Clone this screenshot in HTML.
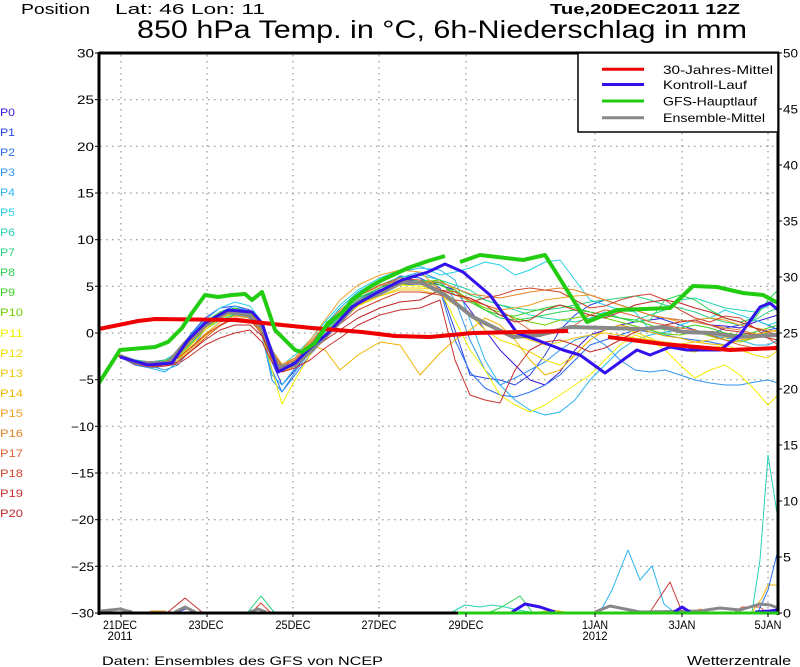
<!DOCTYPE html>
<html>
<head>
<meta charset="utf-8">
<style>
html,body{margin:0;padding:0;background:#fff;}
svg{display:block;}
text{font-family:"Liberation Sans",Arial,sans-serif;}
</style>
</head>
<body>
<svg width="800" height="667" viewBox="0 0 800 667" xmlns="http://www.w3.org/2000/svg">
<rect x="0" y="0" width="800" height="667" fill="#fff"/>

<!-- Header -->
<text x="21" y="14" font-size="15" textLength="69" lengthAdjust="spacingAndGlyphs">Position</text>
<text x="115" y="14" font-size="15" textLength="150" lengthAdjust="spacingAndGlyphs">Lat: 46 Lon: 11</text>
<text x="550" y="14" font-size="15" font-weight="bold" textLength="190" lengthAdjust="spacingAndGlyphs">Tue,20DEC2011 12Z</text>
<text x="137" y="38" font-size="25" textLength="610" lengthAdjust="spacingAndGlyphs">850 hPa Temp. in °C, 6h-Niederschlag in mm</text>

<!-- Grid -->
<g stroke="#808080" stroke-width="1" stroke-dasharray="1.5 4.5" fill="none">
<line x1="100" y1="99.7" x2="777" y2="99.7"/>
<line x1="100" y1="146.3" x2="777" y2="146.3"/>
<line x1="100" y1="193" x2="777" y2="193"/>
<line x1="100" y1="239.7" x2="777" y2="239.7"/>
<line x1="100" y1="286.3" x2="777" y2="286.3"/>
<line x1="100" y1="333" x2="777" y2="333"/>
<line x1="100" y1="379.7" x2="777" y2="379.7"/>
<line x1="100" y1="426.3" x2="777" y2="426.3"/>
<line x1="100" y1="473" x2="777" y2="473"/>
<line x1="100" y1="519.7" x2="777" y2="519.7"/>
<line x1="100" y1="566.3" x2="777" y2="566.3"/>
<line x1="121" y1="55" x2="121" y2="612"/>
<line x1="207" y1="55" x2="207" y2="612"/>
<line x1="293" y1="55" x2="293" y2="612"/>
<line x1="379" y1="55" x2="379" y2="612"/>
<line x1="466" y1="55" x2="466" y2="612"/>
<line x1="595" y1="55" x2="595" y2="612"/>
<line x1="682" y1="55" x2="682" y2="612"/>
<line x1="768" y1="55" x2="768" y2="612"/>
</g>

<!-- Ensemble members -->
<g fill="none" stroke-width="1" stroke-linejoin="round">
<polyline stroke="#3c14dc" points="118,355 135,363 150,366 165,364 178,356 190,338 205,322 220,312 235,308 250,312 262,330 272,360 282,372 295,366 310,350 325,334 340,318 358,300 380,290 400,280 420,280 440,285 455,290 470,310 485,330 500,350 515,365 530,380 545,385 560,372 575,350 590,335 605,330 620,325 635,322 650,320 665,318 680,320 695,322 710,325 725,326 740,328 755,322 768,318 778,315"/>
<polyline stroke="#2846e6" points="118,354 135,360 150,362 165,360 178,352 190,335 205,318 220,308 235,306 250,310 262,325 272,362 282,385 295,370 310,350 325,330 340,315 358,300 380,288 400,276 420,278 440,288 455,330 470,375 485,378 500,380 515,385 530,375 545,355 560,330 575,315 590,305 605,300 620,305 635,310 650,315 665,320 680,325 695,330 710,335 725,328 740,325 755,320 768,325 778,330"/>
<polyline stroke="#2a6ef0" points="118,356 135,365 150,368 165,366 178,360 190,345 205,328 220,316 235,312 250,316 262,330 272,370 282,392 295,375 310,355 325,338 340,322 358,305 380,295 400,285 420,284 440,290 455,340 470,372 485,388 500,395 515,397 530,392 545,385 560,375 575,360 590,345 605,340 620,335 635,330 650,332 665,335 680,338 695,340 710,342 725,345 740,338 755,335 768,330 778,328"/>
<polyline stroke="#3296f0" points="118,355 135,362 150,366 165,370 178,365 190,350 205,330 220,318 235,313 250,318 262,335 272,380 282,392 295,372 310,352 325,330 340,312 358,298 380,288 400,278 420,272 440,280 455,300 470,340 485,370 500,385 515,378 530,370 545,362 560,350 575,340 590,335 605,345 620,360 635,370 650,372 665,370 680,375 695,380 710,383 725,385 740,385 755,382 768,380 778,383"/>
<polyline stroke="#28b4f0" points="118,354 135,362 150,368 165,372 178,362 190,345 205,325 220,312 235,306 250,312 262,332 272,375 282,385 295,368 310,345 325,325 340,308 358,292 380,280 400,272 420,268 440,270 455,280 470,320 485,360 500,385 515,400 530,410 545,415 560,412 575,400 590,380 605,365 620,350 635,340 650,335 665,332 680,330 695,332 710,335 725,338 740,340 755,345 768,345 778,340"/>
<polyline stroke="#28d2e6" points="118,356 135,364 150,366 165,360 178,352 190,336 205,320 220,308 235,302 250,306 262,322 272,350 282,365 295,355 310,340 325,322 340,305 358,290 380,278 400,270 420,266 440,275 455,272 470,268 485,262 500,265 515,275 530,270 545,262 560,260 575,280 590,300 605,305 620,310 635,312 650,330 665,335 680,325 695,320 710,318 725,310 740,315 755,320 768,325 778,322"/>
<polyline stroke="#28d2b4" points="118,355 135,361 150,363 165,362 178,356 190,340 205,324 220,314 235,310 250,314 262,330 272,358 282,372 295,360 310,345 325,328 340,312 358,296 380,285 400,277 420,275 440,280 455,285 470,290 485,300 500,305 515,310 530,315 545,318 560,320 575,322 590,318 605,312 620,318 635,320 650,315 665,310 680,300 695,298 710,303 725,308 740,310 755,312 768,306 778,300"/>
<polyline stroke="#28d282" points="118,354 135,360 150,362 165,360 178,355 190,342 205,328 220,318 235,314 250,318 262,334 272,360 282,370 295,362 310,348 325,332 340,316 358,300 380,290 400,282 420,280 440,282 455,288 470,295 485,300 500,305 515,308 530,310 545,310 560,308 575,305 590,302 605,300 620,298 635,296 650,300 665,305 680,308 695,312 710,318 725,322 740,325 755,320 768,312 778,308"/>
<polyline stroke="#28d250" points="118,355 135,362 150,364 165,363 178,358 190,344 205,330 220,320 235,315 250,318 262,332 272,358 282,368 295,362 310,350 325,335 340,320 358,302 380,292 400,284 420,282 440,283 455,295 470,300 485,310 500,318 515,320 530,318 545,315 560,312 575,310 590,312 605,315 620,318 635,322 650,320 665,300 680,295 695,300 710,310 725,318 740,322 755,318 768,300 778,290"/>
<polyline stroke="#3cd228" points="118,356 135,363 150,365 165,362 178,354 190,338 205,322 220,312 235,308 250,313 262,328 272,354 282,366 295,360 310,346 325,330 340,314 358,298 380,288 400,281 420,283 440,285 455,292 470,302 485,310 500,315 515,316 530,312 545,308 560,305 575,308 590,312 605,315 620,318 635,320 650,325 665,330 680,328 695,325 710,328 725,333 740,335 755,332 768,328 778,325"/>
<polyline stroke="#6ed200" points="118,355 135,361 150,363 165,361 178,356 190,342 205,326 220,316 235,312 250,315 262,330 272,356 282,370 295,364 310,350 325,334 340,318 358,302 380,292 400,285 420,282 440,280 455,290 470,300 485,308 500,312 515,318 530,322 545,325 560,320 575,318 590,315 605,318 620,322 635,326 650,330 665,334 680,335 695,332 710,336 725,340 740,342 755,338 768,332 778,330"/>
<polyline stroke="#f0f000" points="118,354 135,362 150,364 165,362 178,358 190,346 205,330 220,318 235,312 250,316 262,334 272,370 282,404 295,380 310,355 325,336 340,320 358,305 380,294 400,285 420,286 440,290 455,320 470,350 485,370 500,395 515,405 530,412 545,405 560,395 575,385 590,375 605,360 620,345 635,335 650,340 665,350 680,365 695,378 710,370 725,365 740,375 755,390 768,405 778,395"/>
<polyline stroke="#f0dc00" points="118,355 135,362 150,365 165,364 178,360 190,346 205,330 220,318 235,313 250,317 262,330 272,356 282,370 295,364 310,350 325,336 340,322 358,306 380,296 400,288 420,288 440,290 455,300 470,315 485,330 500,340 515,345 530,352 545,360 560,365 575,355 590,340 605,330 620,328 635,332 650,338 665,345 680,350 695,352 710,348 725,345 740,350 755,355 768,358 778,350"/>
<polyline stroke="#f0c814" points="118,356 135,364 150,366 165,364 178,360 190,348 205,334 220,322 235,316 250,318 262,330 272,354 282,366 295,360 310,348 325,334 340,320 358,305 380,296 400,290 420,290 440,295 455,305 470,315 485,325 500,330 515,335 530,340 545,345 560,342 575,338 590,335 605,333 620,335 635,338 650,340 665,342 680,344 695,342 710,340 725,338 740,336 755,334 768,332 778,330"/>
<polyline stroke="#f0b400" points="118,355 135,363 150,366 165,366 178,362 190,350 205,336 220,325 235,318 250,320 262,332 272,360 282,372 295,366 310,345 325,350 340,370 358,355 380,342 400,345 420,375 440,353 455,340 470,330 485,318 500,325 515,340 530,360 545,375 560,370 575,355 590,340 605,330 620,325 635,328 650,332 665,336 680,338 695,342 710,344 725,345 740,340 755,338 768,336 778,336"/>
<polyline stroke="#f0a028" points="118,356 135,364 150,367 165,366 178,362 190,350 205,335 220,322 235,316 250,318 262,328 272,350 282,364 295,358 310,340 325,320 340,300 358,285 380,275 400,270 420,272 440,290 455,295 470,300 485,305 500,310 515,308 530,305 545,300 560,298 575,296 590,295 605,300 620,305 635,310 650,315 665,318 680,322 695,320 710,318 725,320 740,325 755,328 768,330 778,332"/>
<polyline stroke="#e68228" points="118,355 135,362 150,364 165,362 178,356 190,342 205,328 220,316 235,310 250,312 262,326 272,352 282,366 295,358 310,342 325,326 340,310 358,296 380,286 400,280 420,282 440,282 455,288 470,294 485,296 500,298 515,295 530,292 545,290 560,288 575,290 590,295 605,300 620,305 635,310 650,315 665,318 680,320 695,322 710,325 725,328 740,330 755,334 768,338 778,340"/>
<polyline stroke="#dc6432" points="118,356 135,364 150,367 165,366 178,362 190,352 205,338 220,326 235,318 250,320 262,330 272,352 282,366 295,360 310,344 325,328 340,312 358,296 380,285 400,278 420,280 440,290 455,292 470,300 485,305 500,310 515,320 530,330 545,335 560,332 575,325 590,315 605,310 620,312 635,316 650,322 665,325 680,328 695,330 710,335 725,340 740,345 755,348 768,350 778,345"/>
<polyline stroke="#d24632" points="118,355 135,362 150,364 165,362 178,358 190,348 205,335 220,325 235,318 250,320 262,334 272,356 282,368 295,362 310,350 325,338 340,324 358,310 380,300 400,292 420,292 440,295 455,300 470,302 485,298 500,295 515,290 530,288 545,290 560,292 575,300 590,308 605,306 620,300 635,296 650,294 665,300 680,310 695,318 710,322 725,316 740,318 755,328 768,338 778,345"/>
<polyline stroke="#c83232" points="118,356 135,364 150,366 165,366 178,364 190,356 205,345 220,338 235,333 250,330 262,342 272,362 282,372 295,368 310,360 325,348 340,338 358,325 380,315 400,310 420,308 440,300 455,360 470,395 485,400 500,403 515,370 530,350 545,342 560,340 575,345 590,352 605,348 620,340 635,332 650,328 665,325 680,322 695,320 710,325 725,330 740,332 755,335 768,338 778,340"/>
<polyline stroke="#be2828" points="118,355 135,363 150,366 165,366 178,362 190,352 205,340 220,330 235,325 250,325 262,336 272,358 282,370 295,364 310,352 325,340 340,330 358,318 380,308 400,302 420,300 440,290 455,295 470,298 485,305 500,315 515,322 530,320 545,310 560,305 575,310 590,315 605,318 620,312 635,305 650,302 665,300 680,303 695,308 710,312 725,318 740,322 755,328 768,332 778,336"/>
</g>

<!-- Precipitation members -->
<g fill="none" stroke-width="1" stroke-linejoin="round">
<polyline stroke="#f0a028" points="150,611 166,611"/>
<polyline stroke="#c83232" points="168,612 185,598 202,612"/>
<polyline stroke="#2846e6" points="178,612 188,608 196,612"/>
<polyline stroke="#28d282" points="248,612 261,596 274,612"/>
<polyline stroke="#d24632" points="252,612 261,603 270,612"/>
<polyline stroke="#28d2b4" points="452,612 465,605 480,607 492,605 505,607 518,610 530,612"/>
<polyline stroke="#28d250" points="490,612 500,608 520,596 532,612"/>
<polyline stroke="#f0b400" points="540,612 552,610 565,612"/>
<polyline stroke="#28b4f0" points="600,612 612,590 628,550 640,580 652,566 664,604 674,612"/>
<polyline stroke="#c83232" points="650,612 670,582 682,612"/>
<polyline stroke="#f0a028" points="692,612 700,609 708,612"/>
<polyline stroke="#d24632" points="735,612 742,607 760,607 766,612"/>
<polyline stroke="#28d2b4" points="752,612 760,560 768,455 778,520"/>
<polyline stroke="#f0b400" points="752,612 762,598 768,585 778,585"/>
<polyline stroke="#2a6ef0" points="758,612 768,590 778,550"/>
</g>

<!-- Precipitation thick -->
<polyline fill="none" stroke="#888" stroke-width="3" stroke-linejoin="round" points="101,611 120,609 132,612"/>
<polyline fill="none" stroke="#888" stroke-width="3" stroke-linejoin="round" points="175,612 185,607 195,612"/>
<polyline fill="none" stroke="#888" stroke-width="3" stroke-linejoin="round" points="250,612 258,609 266,612"/>
<polyline fill="none" stroke="#888" stroke-width="3" stroke-linejoin="round" points="595,612 610,606 625,609 640,612 700,611 720,608 740,610 760,604 770,605 778,608"/>
<polyline fill="none" stroke="#3311ee" stroke-width="3" stroke-linejoin="round" points="512,612 525,604 540,607 555,612"/>
<polyline fill="none" stroke="#3311ee" stroke-width="3" stroke-linejoin="round" points="674,612 682,607 690,612"/>
<polyline fill="none" stroke="#3311ee" stroke-width="3" stroke-linejoin="round" points="755,612 770,611 778,610"/>

<!-- Ensemble mean (gray) -->
<polyline fill="none" stroke="#888888" stroke-width="4" stroke-linejoin="round" points="120,356 138,363 168,363 185,343 205,325 228,312 248,315 262,328 278,367 295,365 312,350 335,327 358,302 382,292 402,282 422,283 430,287 445,295 473,317 513,337 540,335 570,327 607,328 643,329 663,327 683,332 713,333 737,337 777,335"/>

<!-- Control run (blue) -->
<polyline fill="none" stroke="#3311ee" stroke-width="3" stroke-linejoin="round" points="120,357 148,365 172,363 188,340 205,323 228,310 252,312 262,323 278,372 295,363 308,350 328,333 352,307 378,292 402,280 428,272 445,264 463,272 490,295 517,333 537,340 563,350 580,355 605,373 627,357 637,350 650,355 670,347 687,350 720,350 740,335 760,307 770,303 778,310"/>

<!-- 30-year mean (red) -->
<polyline fill="none" stroke="#ee0000" stroke-width="4" stroke-linejoin="round" points="99,329 138,321 155,319 235,320 282,325 312,328 362,332 395,336 430,337 473,333 568,331"/>
<polyline fill="none" stroke="#ee0000" stroke-width="4" stroke-linejoin="round" points="608,337 663,344 730,350 777,348"/>

<!-- GFS main run (green) -->
<polyline fill="none" stroke="#22cc11" stroke-width="4" stroke-linejoin="round" points="99,383 120,350 155,347 168,342 182,328 192,313 205,295 218,297 232,295 245,294 252,300 262,292 275,330 295,350 302,352 315,343 328,323 342,313 352,300 368,288 382,280 408,268 428,261 445,256"/>
<polyline fill="none" stroke="#22cc11" stroke-width="4" stroke-linejoin="round" points="460,262 480,255 523,260 545,255 587,322 617,310 670,308 693,286 717,287 743,293 763,295 778,303"/>

<!-- Frame -->
<line x1="99" y1="53" x2="779" y2="53" stroke="#000" stroke-width="3"/>
<line x1="99" y1="52" x2="99" y2="615" stroke="#000" stroke-width="3"/>
<line x1="778" y1="52" x2="778" y2="615" stroke="#000" stroke-width="3"/>
<line x1="98" y1="613" x2="458" y2="613" stroke="#000" stroke-width="3"/>
<line x1="458" y1="613" x2="779" y2="613" stroke="#22cc11" stroke-width="3"/>

<!-- Legend -->
<rect x="578" y="53" width="200" height="79" fill="#fff" stroke="#000" stroke-width="1.5"/>
<line x1="602" y1="69.3" x2="644" y2="69.3" stroke="#ee0000" stroke-width="3"/>
<line x1="602" y1="84.5" x2="644" y2="84.5" stroke="#3311ee" stroke-width="3"/>
<line x1="602" y1="101" x2="644" y2="101" stroke="#22cc11" stroke-width="3"/>
<line x1="602" y1="117.7" x2="644" y2="117.7" stroke="#888888" stroke-width="3"/>
<g font-size="12" fill="#000">
<text x="663" y="73.8" textLength="110" lengthAdjust="spacingAndGlyphs">30-Jahres-Mittel</text>
<text x="663" y="89" textLength="84" lengthAdjust="spacingAndGlyphs">Kontroll-Lauf</text>
<text x="663" y="105.5" textLength="94" lengthAdjust="spacingAndGlyphs">GFS-Hauptlauf</text>
<text x="663" y="122.2" textLength="102" lengthAdjust="spacingAndGlyphs">Ensemble-Mittel</text>
</g>

<!-- Left ticks & labels -->
<g stroke="#000" stroke-width="1">
<line x1="95" y1="53" x2="99" y2="53"/><line x1="95" y1="99.7" x2="99" y2="99.7"/><line x1="95" y1="146.3" x2="99" y2="146.3"/><line x1="95" y1="193" x2="99" y2="193"/><line x1="95" y1="239.7" x2="99" y2="239.7"/><line x1="95" y1="286.3" x2="99" y2="286.3"/><line x1="95" y1="333" x2="99" y2="333"/><line x1="95" y1="379.7" x2="99" y2="379.7"/><line x1="95" y1="426.3" x2="99" y2="426.3"/><line x1="95" y1="473" x2="99" y2="473"/><line x1="95" y1="519.7" x2="99" y2="519.7"/><line x1="95" y1="566.3" x2="99" y2="566.3"/><line x1="95" y1="613" x2="99" y2="613"/>
<line x1="778" y1="53" x2="782" y2="53"/><line x1="778" y1="109" x2="782" y2="109"/><line x1="778" y1="165" x2="782" y2="165"/><line x1="778" y1="221" x2="782" y2="221"/><line x1="778" y1="277" x2="782" y2="277"/><line x1="778" y1="333" x2="782" y2="333"/><line x1="778" y1="389" x2="782" y2="389"/><line x1="778" y1="445" x2="782" y2="445"/><line x1="778" y1="501" x2="782" y2="501"/><line x1="778" y1="557" x2="782" y2="557"/><line x1="778" y1="613" x2="782" y2="613"/>
<line x1="121" y1="613" x2="121" y2="617"/><line x1="207" y1="613" x2="207" y2="617"/><line x1="293" y1="613" x2="293" y2="617"/><line x1="379" y1="613" x2="379" y2="617"/><line x1="466" y1="613" x2="466" y2="617"/><line x1="595" y1="613" x2="595" y2="617"/><line x1="682" y1="613" x2="682" y2="617"/><line x1="768" y1="613" x2="768" y2="617"/>
</g>
<g font-size="12" fill="#000" text-anchor="end">
<text x="94" y="57.5" textLength="17" lengthAdjust="spacingAndGlyphs">30</text>
<text x="94" y="104.2" textLength="17" lengthAdjust="spacingAndGlyphs">25</text>
<text x="94" y="150.8" textLength="17" lengthAdjust="spacingAndGlyphs">20</text>
<text x="94" y="197.5" textLength="17" lengthAdjust="spacingAndGlyphs">15</text>
<text x="94" y="244.2" textLength="17" lengthAdjust="spacingAndGlyphs">10</text>
<text x="94" y="290.8" textLength="8" lengthAdjust="spacingAndGlyphs">5</text>
<text x="94" y="337.5" textLength="8" lengthAdjust="spacingAndGlyphs">0</text>
<text x="94" y="384.2" textLength="15" lengthAdjust="spacingAndGlyphs">−5</text>
<text x="94" y="430.8" textLength="23" lengthAdjust="spacingAndGlyphs">−10</text>
<text x="94" y="477.5" textLength="23" lengthAdjust="spacingAndGlyphs">−15</text>
<text x="94" y="524.2" textLength="23" lengthAdjust="spacingAndGlyphs">−20</text>
<text x="94" y="570.8" textLength="23" lengthAdjust="spacingAndGlyphs">−25</text>
<text x="94" y="617.5" textLength="23" lengthAdjust="spacingAndGlyphs">−30</text>
</g>
<g font-size="12" fill="#000">
<text x="783" y="57.5" textLength="15" lengthAdjust="spacingAndGlyphs">50</text>
<text x="783" y="113.5" textLength="15" lengthAdjust="spacingAndGlyphs">45</text>
<text x="783" y="169.5" textLength="15" lengthAdjust="spacingAndGlyphs">40</text>
<text x="783" y="225.5" textLength="15" lengthAdjust="spacingAndGlyphs">35</text>
<text x="783" y="281.5" textLength="15" lengthAdjust="spacingAndGlyphs">30</text>
<text x="783" y="337.5" textLength="15" lengthAdjust="spacingAndGlyphs">25</text>
<text x="783" y="393.5" textLength="15" lengthAdjust="spacingAndGlyphs">20</text>
<text x="783" y="449.5" textLength="15" lengthAdjust="spacingAndGlyphs">15</text>
<text x="783" y="505.5" textLength="15" lengthAdjust="spacingAndGlyphs">10</text>
<text x="783" y="561.5" textLength="8" lengthAdjust="spacingAndGlyphs">5</text>
<text x="783" y="617.5" textLength="8" lengthAdjust="spacingAndGlyphs">0</text>
</g>

<!-- Date labels -->
<g font-size="12" fill="#000" text-anchor="middle">
<text x="120" y="629" textLength="34" lengthAdjust="spacingAndGlyphs">21DEC</text>
<text x="120" y="640" textLength="25" lengthAdjust="spacingAndGlyphs">2011</text>
<text x="206" y="629" textLength="35" lengthAdjust="spacingAndGlyphs">23DEC</text>
<text x="293" y="629" textLength="35" lengthAdjust="spacingAndGlyphs">25DEC</text>
<text x="379" y="629" textLength="35" lengthAdjust="spacingAndGlyphs">27DEC</text>
<text x="466" y="629" textLength="35" lengthAdjust="spacingAndGlyphs">29DEC</text>
<text x="595" y="629" textLength="26" lengthAdjust="spacingAndGlyphs">1JAN</text>
<text x="595" y="640" textLength="25" lengthAdjust="spacingAndGlyphs">2012</text>
<text x="682" y="629" textLength="27" lengthAdjust="spacingAndGlyphs">3JAN</text>
<text x="768" y="629" textLength="27" lengthAdjust="spacingAndGlyphs">5JAN</text>
</g>

<!-- Footer -->
<text x="102" y="665" font-size="12" fill="#000" textLength="281" lengthAdjust="spacingAndGlyphs">Daten: Ensembles des GFS von NCEP</text>
<text x="687" y="665" font-size="13" fill="#000" textLength="104" lengthAdjust="spacingAndGlyphs">Wetterzentrale</text>

<!-- Member labels -->
<g font-size="11">
<text x="0" y="116" fill="#3c14dc" textLength="15" lengthAdjust="spacingAndGlyphs">P0</text>
<text x="0" y="136" fill="#2846e6" textLength="15" lengthAdjust="spacingAndGlyphs">P1</text>
<text x="0" y="156" fill="#2a6ef0" textLength="15" lengthAdjust="spacingAndGlyphs">P2</text>
<text x="0" y="176" fill="#3296f0" textLength="15" lengthAdjust="spacingAndGlyphs">P3</text>
<text x="0" y="196" fill="#28b4f0" textLength="15" lengthAdjust="spacingAndGlyphs">P4</text>
<text x="0" y="216" fill="#28d2e6" textLength="15" lengthAdjust="spacingAndGlyphs">P5</text>
<text x="0" y="236" fill="#28d2b4" textLength="15" lengthAdjust="spacingAndGlyphs">P6</text>
<text x="0" y="256" fill="#28d282" textLength="15" lengthAdjust="spacingAndGlyphs">P7</text>
<text x="0" y="276" fill="#28d250" textLength="15" lengthAdjust="spacingAndGlyphs">P8</text>
<text x="0" y="296" fill="#3cd228" textLength="15" lengthAdjust="spacingAndGlyphs">P9</text>
<text x="0" y="316" fill="#6ed200" textLength="23" lengthAdjust="spacingAndGlyphs">P10</text>
<text x="0" y="337" fill="#f0f000" textLength="23" lengthAdjust="spacingAndGlyphs">P11</text>
<text x="0" y="357" fill="#f0dc00" textLength="23" lengthAdjust="spacingAndGlyphs">P12</text>
<text x="0" y="377" fill="#f0c814" textLength="23" lengthAdjust="spacingAndGlyphs">P13</text>
<text x="0" y="397" fill="#f0b400" textLength="23" lengthAdjust="spacingAndGlyphs">P14</text>
<text x="0" y="417" fill="#f0a028" textLength="23" lengthAdjust="spacingAndGlyphs">P15</text>
<text x="0" y="437" fill="#e68228" textLength="23" lengthAdjust="spacingAndGlyphs">P16</text>
<text x="0" y="457" fill="#dc6432" textLength="23" lengthAdjust="spacingAndGlyphs">P17</text>
<text x="0" y="477" fill="#d24632" textLength="23" lengthAdjust="spacingAndGlyphs">P18</text>
<text x="0" y="497" fill="#c83232" textLength="23" lengthAdjust="spacingAndGlyphs">P19</text>
<text x="0" y="517" fill="#be2828" textLength="23" lengthAdjust="spacingAndGlyphs">P20</text>
</g>
</svg>
</body>
</html>
